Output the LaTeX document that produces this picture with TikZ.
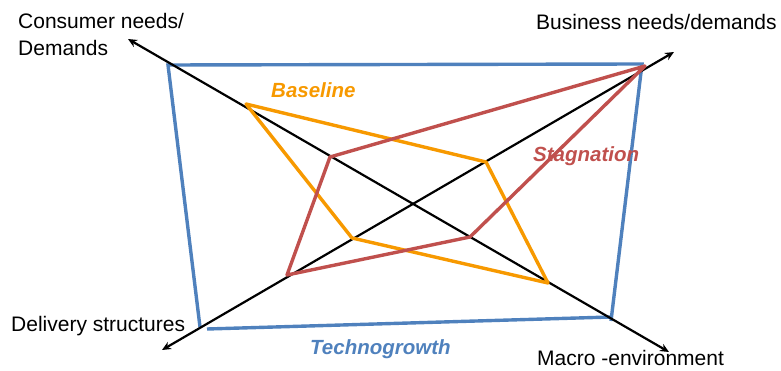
\documentclass[tikz,border=0pt]{standalone}
\usepackage{fontspec}
\setmainfont{Liberation Sans}
\usetikzlibrary{arrows.meta}
\definecolor{tgblue}{RGB}{79,129,189}
\definecolor{blorange}{RGB}{247,153,0}
\definecolor{stred}{RGB}{192,80,77}
\tikzset{
  axisline/.style={black, line width=2.2pt, {Stealth[length=9pt,width=8pt]}-{Stealth[length=9pt,width=8pt]}},
  techline/.style={tgblue, line width=3.4pt},
  baseline poly/.style={blorange, line width=3.4pt, line join=round},
  stag poly/.style={stred, line width=3.4pt, line join=round},
  axislabel/.style={inner sep=0pt, font=\fontsize{21}{27}\selectfont},
  scenlabel/.style={inner sep=0pt, font=\fontsize{20.5}{24}\selectfont\bfseries\itshape}
}
\begin{document}
\begin{tikzpicture}[x=1pt,y=-1pt]
\useasboundingbox (0,0) rectangle (781,371);
% axis end points
\coordinate (cons) at (128,39);
\coordinate (macro) at (669,352);
\coordinate (deliv) at (162,350);
\coordinate (bus) at (674,52);
% Technogrowth quadrilateral
\coordinate (t1) at (168,65);
\coordinate (t2) at (642,64);
\coordinate (t3) at (611,321);
\coordinate (t3b) at (611,317);
\coordinate (t4) at (200,327);
\coordinate (t4b) at (207,329);
\draw[techline] (t4) -- (t1) -- (t2) -- (t3);
\draw[techline] (t4b) -- (t3b);
% axes
\draw[axisline] (macro) -- (cons);
\draw[axisline] (deliv) -- (bus);
% Baseline
\coordinate (b1) at (246,104);
\coordinate (b2) at (486,162);
\coordinate (b3) at (548,283);
\coordinate (b4) at (352,238);
\draw[baseline poly] (b1) -- (b2) -- (b3) -- (b4) -- cycle;
% Stagnation
\coordinate (s1) at (330,157);
\coordinate (s2) at (645,66);
\coordinate (s3) at (470,237);
\coordinate (s4) at (287,275);
\draw[stag poly] (s1) -- (s2) -- (s3) -- (s4) -- cycle;
% labels
\node[axislabel, anchor=west, align=left] (lcons) at (18,34) {Consumer needs/\\Demands};
\node[axislabel, anchor=west] (lbus) at (536,22) {Business needs/demands};
\node[axislabel, anchor=west] (ldeliv) at (11,326) {Delivery structures};
\node[axislabel, anchor=west] (lmacro) at (537,358) {Macro -environment};
\node[scenlabel, text=blorange, anchor=west] (lbase) at (271,90) {Baseline};
\node[scenlabel, text=stred, anchor=west] (lstag) at (533,156) {Stagnation};
\node[scenlabel, text=tgblue, anchor=west] (ltech) at (310,349) {Technogrowth};
\end{tikzpicture}
\end{document}
